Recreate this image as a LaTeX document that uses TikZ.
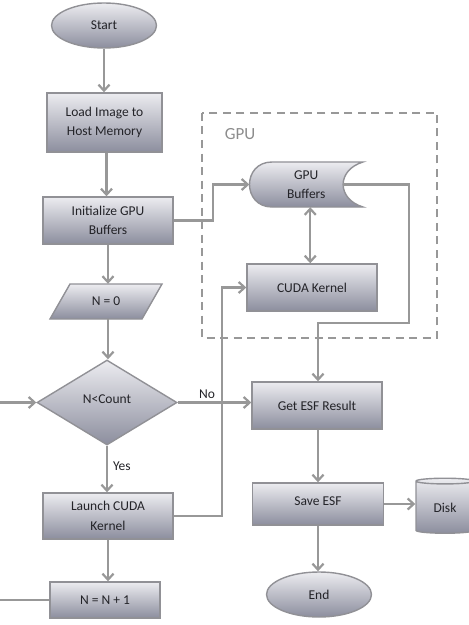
\documentclass[tikz,border=0pt]{standalone}
\usepackage{fontspec}
\setmainfont{Carlito}
\usetikzlibrary{arrows.meta,shapes.geometric,calc}
\definecolor{linec}{RGB}{152,152,152}
\definecolor{bordc}{RGB}{145,145,150}
\definecolor{topc}{RGB}{236,236,240}
\definecolor{botc}{RGB}{140,142,158}
\definecolor{txtc}{RGB}{35,35,40}
\definecolor{gpuc}{RGB}{140,140,140}
\tikzset{
  base/.style={draw=bordc, line width=1.4bp, top color=topc, bottom color=botc,
    text=txtc, font=\fontsize{13.5bp}{19.5bp}\selectfont, align=center, inner sep=0pt},
  procbox/.style={base, rectangle},
  termin/.style={base, ellipse},
  decis/.style={base, diamond},
  lbl/.style={text=txtc, font=\fontsize{13.5bp}{19.5bp}\selectfont, inner sep=0pt},
  conn/.style={draw=linec, line width=2.2bp},
  arr/.style={conn, -{Straight Barb[length=6bp,width=11bp]}},
  darr/.style={conn, {Straight Barb[length=6bp,width=11bp]}-{Straight Barb[length=6bp,width=11bp]}},
}
\begin{document}
\begin{tikzpicture}[x=1bp,y=-1bp]
\useasboundingbox (0,0) rectangle (469,625);
% GPU region
\draw[draw=linec, line width=2.2bp, dash pattern=on 8bp off 5.5bp] (202,113) rectangle (437,338);
\node[text=gpuc, font=\fontsize{17bp}{20bp}\selectfont, inner sep=0pt] (gpulbl) at (240,134) {GPU};

% left column
\node[termin, minimum width=105bp, minimum height=45bp] (start) at (104,25.5) {Start};
\node[procbox, minimum width=115bp, minimum height=59bp] (load) at (104.5,122.5) {Load Image to\\Host Memory};
\node[procbox, minimum width=130bp, minimum height=47bp] (init) at (108,220.5) {Initialize GPU\\Buffers};
% parallelogram
\shade[draw=bordc, line width=1.4bp, top color=topc, bottom color=botc] (70,284) -- (162,284) -- (142,319) -- (50,319) -- cycle;
\node[lbl, minimum width=92bp, minimum height=35bp] (nzero) at (106,301.5) {N = 0};
\node[decis, minimum width=140bp, minimum height=85bp] (dec) at (107,402.5) {\raisebox{6bp}{N<Count}};
\node[procbox, minimum width=130bp, minimum height=46bp] (launch) at (108,516) {Launch CUDA\\Kernel};
\node[procbox, minimum width=110bp, minimum height=36bp] (inc) at (105,600) {N = N + 1};

% GPU buffers (stored data shape)
\shade[draw=bordc, line width=1.4bp, top color=topc, bottom color=botc]
  (272,162) -- (363,162) .. controls (336.5,170) and (336.5,199) .. (363,207)
  -- (272,207) .. controls (242,207) and (242,162) .. (272,162) -- cycle;
\node[lbl, minimum width=113.5bp, minimum height=45bp, align=center] (buf) at (306.25,184.5) {GPU\\Buffers};
\node[procbox, minimum width=130bp, minimum height=47bp] (kern) at (312,287.5) {CUDA Kernel};

% right column
\node[procbox, minimum width=130bp, minimum height=47bp] (esf) at (317,405.5) {Get ESF Result};
\node[procbox, minimum width=131bp, minimum height=42bp] (save) at (318,504) {\raisebox{5bp}{Save ESF}};
\node[base, cylinder, shape border rotate=90, aspect=0.25, minimum width=58bp, minimum height=55bp] (disk) at (445,507.5) {\raisebox{-4bp}{Disk}};
\node[termin, minimum width=105bp, minimum height=45bp] (end) at (319,594.5) {End};

% connectors
\draw[arr] (start.south) -- (start.south |- load.north);
\draw[arr] ([xshift=2bp]load.south) -- ([xshift=2bp]load.south |- init.north);
\draw[arr] (init.south) -- (init.south |- nzero.north);
\draw[arr] ([xshift=2bp]nzero.south) -- ([xshift=2bp]nzero.south |- dec.north);
\draw[arr] (dec.south) -- (dec.south |- launch.north) node[lbl, pos=0.45, right=5bp] (yes) {Yes};
\draw[arr] (launch.south) -- (launch.south |- inc.north);
\draw[arr] (inc.west) -- ++(-120,0) |- (dec.west);
\draw[arr] (dec.east) -- (dec.east -| esf.west) node[lbl, pos=0.4, above=3bp] (no) {No};

\coordinate (ia) at (213,220.5);
\draw[arr] (init.east) -- (ia) |- (buf.west);
\coordinate (la) at (222,516);
\draw[arr] (launch.east) -- (la) |- (kern.west);
\draw[darr] ([xshift=4bp]buf.south) -- ([xshift=4bp]buf.south |- kern.north);
\coordinate (ba) at (409,184.5);
\coordinate (bb) at (409,323);
\draw[arr] ([xshift=-20bp]buf.east) -- (ba) -- (bb) -| ([xshift=1bp]esf.north);

\draw[arr] ([xshift=1bp]esf.south) -- ([xshift=1bp]esf.south |- save.north);
\draw[arr] (save.east) -- (save.east -| disk.west);
\draw[arr] (save.south) -- (save.south |- end.north);
\end{tikzpicture}
\end{document}
